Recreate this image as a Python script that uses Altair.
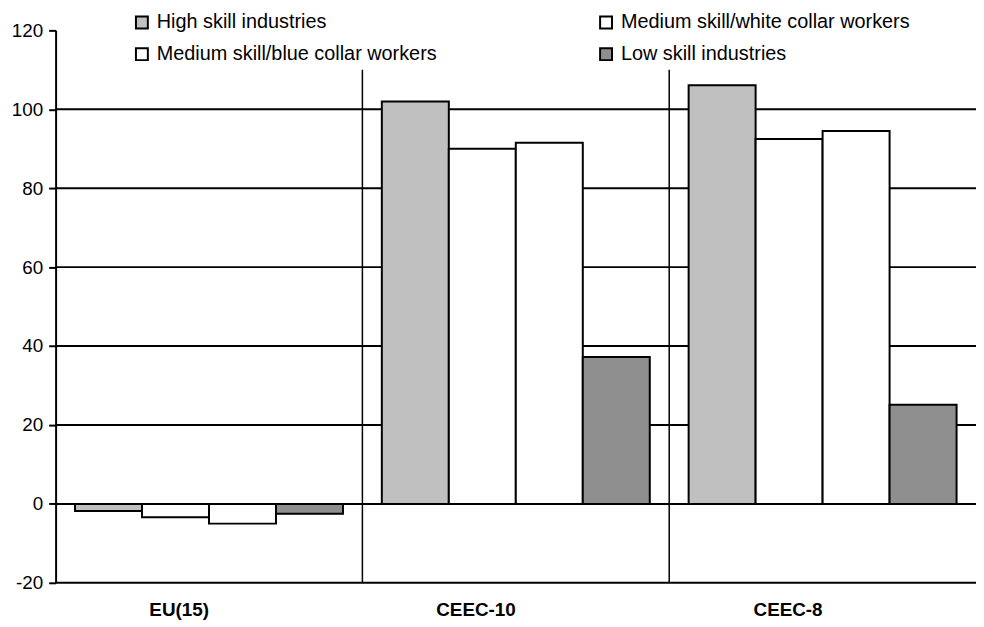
import altair as alt
import pandas as pd

categories = ["EU(15)", "CEEC-10", "CEEC-8"]
series = ["High skill industries", "Medium skill/white collar workers",
          "Medium skill/blue collar workers", "Low skill industries"]
values = {
    "High skill industries": [-1.8, 102.0, 106.1],
    "Medium skill/white collar workers": [-3.4, 90.0, 92.5],
    "Medium skill/blue collar workers": [-5.0, 91.5, 94.5],
    "Low skill industries": [-2.5, 37.2, 25.1],
}
colors = ["#C0C0C0", "#FFFFFF", "#FFFFFF", "#8F8F8F"]
y_ticks = [-20, 0, 20, 40, 60, 80, 100, 120]
grid_values = [-20, 0, 20, 40, 60, 80, 100]

rows = []
for s in series:
    for c, v in zip(categories, values[s]):
        rows.append({"category": c, "series": s, "value": v})
df = pd.DataFrame(rows)
grid_df = pd.DataFrame({"g": grid_values})
sep_df = pd.DataFrame({"category": categories[1:]})

FONT = "Liberation Sans"
W, H = 928, 557

xscale = alt.Scale(domain=categories, paddingInner=0, paddingOuter=0)
yscale = alt.Scale(domain=[-20, 120], nice=False)
yaxis = alt.Axis(title=None, values=y_ticks, grid=False, domainColor="black",
                 domainWidth=2, tickColor="black", tickWidth=2, tickSize=7,
                 labelExpr="'' + datum.value",
                 labelFont=FONT, labelFontSize=19, labelColor="black", labelPadding=6)

grid = alt.Chart(grid_df).mark_rule(color="black", strokeWidth=2).encode(
    y=alt.Y("g:Q", scale=yscale, axis=yaxis)
)

bars = alt.Chart(df).mark_bar(stroke="black", strokeWidth=2).encode(
    x=alt.X("category:N", scale=xscale, sort=categories,
            axis=alt.Axis(title=None, orient="bottom", labelAngle=0, domain=False, ticks=False,
                          labelFont=FONT, labelFontSize=19, labelFontWeight="bold",
                          labelColor="black", labelPadding=27)),
    xOffset=alt.XOffset("series:N", sort=series,
                        scale=alt.Scale(domain=series, paddingOuter=0.29, paddingInner=0)),
    y=alt.Y("value:Q", scale=yscale, axis=yaxis),
    fill=alt.Fill("series:N", sort=series,
                  scale=alt.Scale(domain=series, range=colors),
                  legend=alt.Legend(title=None, orient="none", legendX=77, legendY=-18,
                                    direction="horizontal", columns=2, columnPadding=160,
                                    rowPadding=12, symbolType="square", symbolSize=144,
                                    symbolStrokeColor="black", symbolStrokeWidth=2,
                                    labelFont=FONT, labelFontSize=20, labelColor="black",
                                    labelOffset=5, labelLimit=400)),
)

seps = alt.Chart(sep_df).mark_rule(color="black", strokeWidth=1.5).encode(
    x=alt.X("category:N", scale=xscale, bandPosition=0),
    y=alt.Y("top:Q", scale=yscale),
    y2="bottom:Q",
).transform_calculate(top="110", bottom="-20")

chart = alt.layer(grid, seps, bars).properties(
    width=W, height=H,
    autosize=alt.AutoSizeParams(type="none"),
    padding={"left": 48, "top": 20, "right": 0, "bottom": 42},
    background="white",
).configure_view(stroke=None)

chart.save("out.html", embed_options={"renderer": "svg", "actions": False})
